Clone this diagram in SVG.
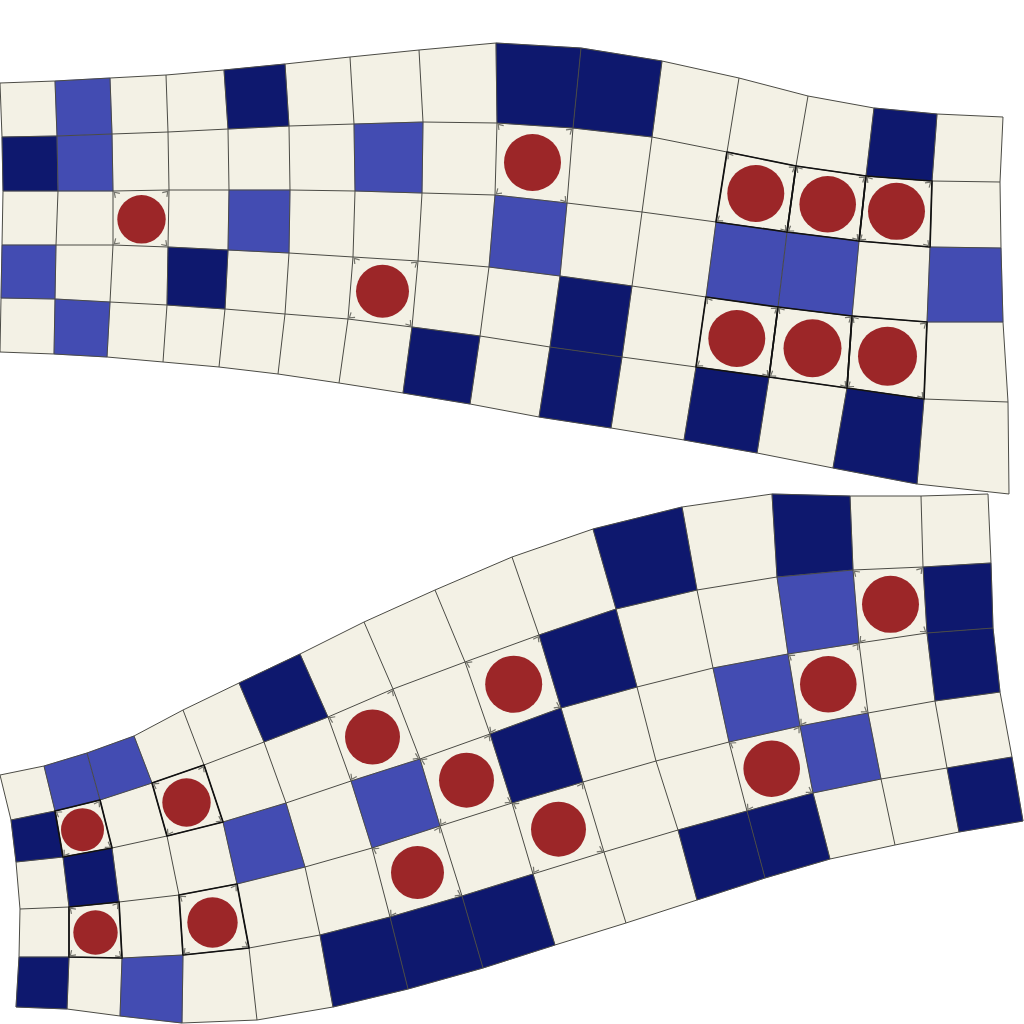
<svg xmlns="http://www.w3.org/2000/svg" width="1024" height="1024" viewBox="0 0 1024 1024">
<style>
.bg{fill:#F3F1E5}
.n{fill:#0E186E;stroke:#0E186E;stroke-width:0.5}
.mb{fill:#434CB2;stroke:#434CB2;stroke-width:0.5}
.gl polyline{fill:none;stroke:#4b4b45;stroke-width:1}
.thick polygon{fill:none;stroke:#111;stroke-width:1.7;stroke-linejoin:round}
.dot circle{fill:#9C2628}
.tk line{stroke:none;marker-end:url(#tk)}
</style>
<defs>
<marker id="tk" markerUnits="userSpaceOnUse" markerWidth="10" markerHeight="10" refX="0" refY="0" orient="auto" overflow="visible">
<path d="M-6.5,-3.2 L-1.8,0 L-6.5,3.2" fill="none" stroke="#74746c" stroke-width="1.2"/>
</marker>
</defs>
<rect width="1024" height="1024" fill="#ffffff"/>

<g id="top-grid">
<polygon class="bg" points="0,83 55,81 110,78 166,75 224,70 285,64 350,57 419,50 496,43 581,48 662,61 739,78 808,96 874,108 937,114 1003,117 1000,182 1001,248 1003,322 1008,402 1009,494 917,484 833,468 757,453 684,440 611,428 539,417 470,404 403,393 339,383 278,374 219,367 163,362 107,357 54,354 0,352 1,298 2,245 3,191 2,137"/>
<g id="top-cells">
<polygon class="mb" points="55,81 110,78 112,134 57,136"/>
<polygon class="n" points="224,70 285,64 289,126 228,129"/>
<polygon class="n" points="496,43 581,48 573,128 497,123"/>
<polygon class="n" points="581,48 662,61 652,137 573,128"/>
<polygon class="n" points="874,108 937,114 932,181 866,176"/>
<polygon class="n" points="2,137 57,136 58,191 3,191"/>
<polygon class="mb" points="57,136 112,134 113,191 58,191"/>
<polygon class="mb" points="354,124 423,122 422,193 355,191"/>
<polygon class="mb" points="229,190 290,190 289,253 228,250"/>
<polygon class="mb" points="495,195 567,203 560,276 489,267"/>
<polygon class="mb" points="716,222 787,232 778,307 706,297"/>
<polygon class="mb" points="787,232 859,241 852,316 778,307"/>
<polygon class="mb" points="930,247 1001,248 1003,322 927,322"/>
<polygon class="mb" points="2,245 56,245 55,299 1,298"/>
<polygon class="n" points="168,247 228,250 225,309 167,305"/>
<polygon class="n" points="560,276 632,286 622,357 550,347"/>
<polygon class="mb" points="55,299 110,302 107,357 54,354"/>
<polygon class="n" points="412,327 480,336 470,404 403,393"/>
<polygon class="n" points="550,347 622,357 611,428 539,417"/>
<polygon class="n" points="696,367 769,377 757,453 684,440"/>
<polygon class="n" points="847,388 924,399 917,484 833,468"/>
</g>
<g id="top-lines" class="gl">
<polyline points="0,83 55,81 110,78 166,75 224,70 285,64 350,57 419,50 496,43 581,48 662,61 739,78 808,96 874,108 937,114 1003,117"/>
<polyline points="2,137 57,136 112,134 168,132 228,129 289,126 354,124 423,122 497,123 573,128 652,137 727,152 796,166 866,176 932,181 1000,182"/>
<polyline points="3,191 58,191 113,191 169,190 229,190 290,190 355,191 422,193 495,195 567,203 642,212 716,222 787,232 859,241 930,247 1001,248"/>
<polyline points="2,245 56,245 113,245 168,247 228,250 289,253 353,257 418,261 489,267 560,276 632,286 706,297 778,307 852,316 927,322 1003,322"/>
<polyline points="1,298 55,299 110,302 167,305 225,309 285,314 348,319 412,327 480,336 550,347 622,357 696,367 769,377 847,388 924,399 1008,402"/>
<polyline points="0,352 54,354 107,357 163,362 219,367 278,374 339,383 403,393 470,404 539,417 611,428 684,440 757,453 833,468 917,484 1009,494"/>
<polyline points="0,83 2,137 3,191 2,245 1,298 0,352"/>
<polyline points="55,81 57,136 58,191 56,245 55,299 54,354"/>
<polyline points="110,78 112,134 113,191 113,245 110,302 107,357"/>
<polyline points="166,75 168,132 169,190 168,247 167,305 163,362"/>
<polyline points="224,70 228,129 229,190 228,250 225,309 219,367"/>
<polyline points="285,64 289,126 290,190 289,253 285,314 278,374"/>
<polyline points="350,57 354,124 355,191 353,257 348,319 339,383"/>
<polyline points="419,50 423,122 422,193 418,261 412,327 403,393"/>
<polyline points="496,43 497,123 495,195 489,267 480,336 470,404"/>
<polyline points="581,48 573,128 567,203 560,276 550,347 539,417"/>
<polyline points="662,61 652,137 642,212 632,286 622,357 611,428"/>
<polyline points="739,78 727,152 716,222 706,297 696,367 684,440"/>
<polyline points="808,96 796,166 787,232 778,307 769,377 757,453"/>
<polyline points="874,108 866,176 859,241 852,316 847,388 833,468"/>
<polyline points="937,114 932,181 930,247 927,322 924,399 917,484"/>
<polyline points="1003,117 1000,182 1001,248 1003,322 1008,402 1009,494"/>
</g>
<g class="thick">
<polygon points="727,152 796,166 787,232 716,222"/>
<polygon points="796,166 866,176 859,241 787,232"/>
<polygon points="866,176 932,181 930,247 859,241"/>
<polygon points="706,297 778,307 769,377 696,367"/>
<polygon points="778,307 852,316 847,388 769,377"/>
<polygon points="852,316 927,322 924,399 847,388"/>
</g>
<g class="dot">
<circle cx="532.5" cy="162.5" r="28.5"/>
<circle cx="755.8" cy="193.5" r="28.5"/>
<circle cx="827.7" cy="204.3" r="28.3"/>
<circle cx="896.5" cy="211.3" r="28.5"/>
<circle cx="141.5" cy="219.3" r="24.2"/>
<circle cx="382.5" cy="291.3" r="26.5"/>
<circle cx="736.8" cy="338.5" r="28.5"/>
<circle cx="812.5" cy="348.3" r="29"/>
<circle cx="887.5" cy="356.2" r="29.5"/>
</g>
<g class="tk">
<line x1="532.5" y1="162.5" x2="497" y2="123"/><line x1="532.5" y1="162.5" x2="573" y2="128"/><line x1="532.5" y1="162.5" x2="567" y2="203"/><line x1="532.5" y1="162.5" x2="495" y2="195"/>
<line x1="755.8" y1="193.5" x2="727" y2="152"/><line x1="755.8" y1="193.5" x2="796" y2="166"/><line x1="755.8" y1="193.5" x2="787" y2="232"/><line x1="755.8" y1="193.5" x2="716" y2="222"/>
<line x1="827.7" y1="204.3" x2="796" y2="166"/><line x1="827.7" y1="204.3" x2="866" y2="176"/><line x1="827.7" y1="204.3" x2="859" y2="241"/><line x1="827.7" y1="204.3" x2="787" y2="232"/>
<line x1="896.5" y1="211.3" x2="866" y2="176"/><line x1="896.5" y1="211.3" x2="932" y2="181"/><line x1="896.5" y1="211.3" x2="930" y2="247"/><line x1="896.5" y1="211.3" x2="859" y2="241"/>
<line x1="141.5" y1="219.3" x2="113" y2="191"/><line x1="141.5" y1="219.3" x2="169" y2="190"/><line x1="141.5" y1="219.3" x2="168" y2="247"/><line x1="141.5" y1="219.3" x2="113" y2="245"/>
<line x1="382.5" y1="291.3" x2="353" y2="257"/><line x1="382.5" y1="291.3" x2="418" y2="261"/><line x1="382.5" y1="291.3" x2="412" y2="327"/><line x1="382.5" y1="291.3" x2="348" y2="319"/>
<line x1="736.8" y1="338.5" x2="706" y2="297"/><line x1="736.8" y1="338.5" x2="778" y2="307"/><line x1="736.8" y1="338.5" x2="769" y2="377"/><line x1="736.8" y1="338.5" x2="696" y2="367"/>
<line x1="812.5" y1="348.3" x2="778" y2="307"/><line x1="812.5" y1="348.3" x2="852" y2="316"/><line x1="812.5" y1="348.3" x2="847" y2="388"/><line x1="812.5" y1="348.3" x2="769" y2="377"/>
<line x1="887.5" y1="356.2" x2="852" y2="316"/><line x1="887.5" y1="356.2" x2="927" y2="322"/><line x1="887.5" y1="356.2" x2="924" y2="399"/><line x1="887.5" y1="356.2" x2="847" y2="388"/>
</g>
</g>

<g id="bottom-grid">
<polygon class="bg" points="0,775 44,766 87,753 134,736 183,710 239,683 300,654 364,622 435,590 512,557 593,529 682,507 772,494 850,496 921,496 988,494 991,563 993,628 1000,692 1012,757 1023,821 959,832 895,845 830,859 765,878 697,900 626,923 555,945 483,968 408,989 333,1007 257,1020 182,1023 120,1016 67,1009 16,1007 19,957 20,909 16,862 11,820"/>
<g id="bottom-cells">
<polygon class="mb" points="44,766 87,753 100,800 55,811"/>
<polygon class="mb" points="87,753 134,736 152,783 100,800"/>
<polygon class="n" points="239,683 300,654 328,717 264,742"/>
<polygon class="n" points="593,529 682,507 697,590 616,609"/>
<polygon class="n" points="772,494 850,496 853,570 777,577"/>
<polygon class="n" points="11,820 55,811 63,857 16,862"/>
<polygon class="n" points="539,635 616,609 637,687 561,708"/>
<polygon class="mb" points="777,577 853,570 859,643 788,654"/>
<polygon class="n" points="923,567 991,563 993,628 927,633"/>
<polygon class="n" points="63,857 112,848 119,902 69,907"/>
<polygon class="mb" points="223,822 286,803 305,867 237,884"/>
<polygon class="mb" points="351,781 420,759 440,826 372,848"/>
<polygon class="n" points="490,734 561,708 583,782 512,803"/>
<polygon class="mb" points="713,668 788,654 800,726 729,742"/>
<polygon class="n" points="927,633 993,628 1000,692 935,701"/>
<polygon class="mb" points="800,726 868,713 881,779 813,793"/>
<polygon class="n" points="19,957 69,957 67,1009 16,1007"/>
<polygon class="mb" points="122,958 183,955 182,1023 120,1016"/>
<polygon class="n" points="320,935 390,917 408,989 333,1007"/>
<polygon class="n" points="390,917 462,896 483,968 408,989"/>
<polygon class="n" points="462,896 533,874 555,945 483,968"/>
<polygon class="n" points="678,830 747,811 765,878 697,900"/>
<polygon class="n" points="747,811 813,793 830,859 765,878"/>
<polygon class="n" points="947,768 1012,757 1023,821 959,832"/>
</g>
<g id="bottom-lines" class="gl">
<polyline points="0,775 44,766 87,753 134,736 183,710 239,683 300,654 364,622 435,590 512,557 593,529 682,507 772,494 850,496 921,496 988,494"/>
<polyline points="11,820 55,811 100,800 152,783 204,765 264,742 328,717 393,689 465,662 539,635 616,609 697,590 777,577 853,570 923,567 991,563"/>
<polyline points="16,862 63,857 112,848 167,836 223,822 286,803 351,781 420,759 490,734 561,708 637,687 713,668 788,654 859,643 927,633 993,628"/>
<polyline points="20,909 69,907 119,902 179,895 237,884 305,867 372,848 440,826 512,803 583,782 656,761 729,742 800,726 868,713 935,701 1000,692"/>
<polyline points="19,957 69,957 122,958 183,955 249,948 320,935 390,917 462,896 533,874 604,852 678,830 747,811 813,793 881,779 947,768 1012,757"/>
<polyline points="16,1007 67,1009 120,1016 182,1023 257,1020 333,1007 408,989 483,968 555,945 626,923 697,900 765,878 830,859 895,845 959,832 1023,821"/>
<polyline points="0,775 11,820 16,862 20,909 19,957 16,1007"/>
<polyline points="44,766 55,811 63,857 69,907 69,957 67,1009"/>
<polyline points="87,753 100,800 112,848 119,902 122,958 120,1016"/>
<polyline points="134,736 152,783 167,836 179,895 183,955 182,1023"/>
<polyline points="183,710 204,765 223,822 237,884 249,948 257,1020"/>
<polyline points="239,683 264,742 286,803 305,867 320,935 333,1007"/>
<polyline points="300,654 328,717 351,781 372,848 390,917 408,989"/>
<polyline points="364,622 393,689 420,759 440,826 462,896 483,968"/>
<polyline points="435,590 465,662 490,734 512,803 533,874 555,945"/>
<polyline points="512,557 539,635 561,708 583,782 604,852 626,923"/>
<polyline points="593,529 616,609 637,687 656,761 678,830 697,900"/>
<polyline points="682,507 697,590 713,668 729,742 747,811 765,878"/>
<polyline points="772,494 777,577 788,654 800,726 813,793 830,859"/>
<polyline points="850,496 853,570 859,643 868,713 881,779 895,845"/>
<polyline points="921,496 923,567 927,633 935,701 947,768 959,832"/>
<polyline points="988,494 991,563 993,628 1000,692 1012,757 1023,821"/>
</g>
<g class="thick">
<polygon points="55,811 100,800 112,848 63,857"/>
<polygon points="152,783 204,765 223,822 167,836"/>
<polygon points="69,907 119,902 122,958 69,957"/>
<polygon points="179,895 237,884 249,948 183,955"/>
</g>
<g class="dot">
<circle cx="82.5" cy="829.7" r="21.5"/>
<circle cx="186.5" cy="802.5" r="24.2"/>
<circle cx="372.5" cy="737" r="27.5"/>
<circle cx="513.7" cy="684.2" r="28.5"/>
<circle cx="890.5" cy="604.3" r="28.5"/>
<circle cx="466.5" cy="780.2" r="27.5"/>
<circle cx="828.3" cy="684.3" r="28.3"/>
<circle cx="95.5" cy="932.5" r="22.2"/>
<circle cx="212.5" cy="922.5" r="25.2"/>
<circle cx="417.5" cy="872.5" r="26.5"/>
<circle cx="558.5" cy="829.2" r="27.5"/>
<circle cx="771.7" cy="768.7" r="28.3"/>
</g>
<g class="tk">
<line x1="82.5" y1="829.7" x2="55" y2="811"/><line x1="82.5" y1="829.7" x2="100" y2="800"/><line x1="82.5" y1="829.7" x2="112" y2="848"/><line x1="82.5" y1="829.7" x2="63" y2="857"/>
<line x1="186.5" y1="802.5" x2="152" y2="783"/><line x1="186.5" y1="802.5" x2="204" y2="765"/><line x1="186.5" y1="802.5" x2="223" y2="822"/><line x1="186.5" y1="802.5" x2="167" y2="836"/>
<line x1="372.5" y1="737" x2="328" y2="717"/><line x1="372.5" y1="737" x2="393" y2="689"/><line x1="372.5" y1="737" x2="420" y2="759"/><line x1="372.5" y1="737" x2="351" y2="781"/>
<line x1="513.7" y1="684.2" x2="465" y2="662"/><line x1="513.7" y1="684.2" x2="539" y2="635"/><line x1="513.7" y1="684.2" x2="561" y2="708"/><line x1="513.7" y1="684.2" x2="490" y2="734"/>
<line x1="890.5" y1="604.3" x2="853" y2="570"/><line x1="890.5" y1="604.3" x2="923" y2="567"/><line x1="890.5" y1="604.3" x2="927" y2="633"/><line x1="890.5" y1="604.3" x2="859" y2="643"/>
<line x1="466.5" y1="780.2" x2="420" y2="759"/><line x1="466.5" y1="780.2" x2="490" y2="734"/><line x1="466.5" y1="780.2" x2="512" y2="803"/><line x1="466.5" y1="780.2" x2="440" y2="826"/>
<line x1="828.3" y1="684.3" x2="788" y2="654"/><line x1="828.3" y1="684.3" x2="859" y2="643"/><line x1="828.3" y1="684.3" x2="868" y2="713"/><line x1="828.3" y1="684.3" x2="800" y2="726"/>
<line x1="95.5" y1="932.5" x2="69" y2="907"/><line x1="95.5" y1="932.5" x2="119" y2="902"/><line x1="95.5" y1="932.5" x2="122" y2="958"/><line x1="95.5" y1="932.5" x2="69" y2="957"/>
<line x1="212.5" y1="922.5" x2="179" y2="895"/><line x1="212.5" y1="922.5" x2="237" y2="884"/><line x1="212.5" y1="922.5" x2="249" y2="948"/><line x1="212.5" y1="922.5" x2="183" y2="955"/>
<line x1="417.5" y1="872.5" x2="372" y2="848"/><line x1="417.5" y1="872.5" x2="440" y2="826"/><line x1="417.5" y1="872.5" x2="462" y2="896"/><line x1="417.5" y1="872.5" x2="390" y2="917"/>
<line x1="558.5" y1="829.2" x2="512" y2="803"/><line x1="558.5" y1="829.2" x2="583" y2="782"/><line x1="558.5" y1="829.2" x2="604" y2="852"/><line x1="558.5" y1="829.2" x2="533" y2="874"/>
<line x1="771.7" y1="768.7" x2="729" y2="742"/><line x1="771.7" y1="768.7" x2="800" y2="726"/><line x1="771.7" y1="768.7" x2="813" y2="793"/><line x1="771.7" y1="768.7" x2="747" y2="811"/>
</g>
</g>
</svg>
